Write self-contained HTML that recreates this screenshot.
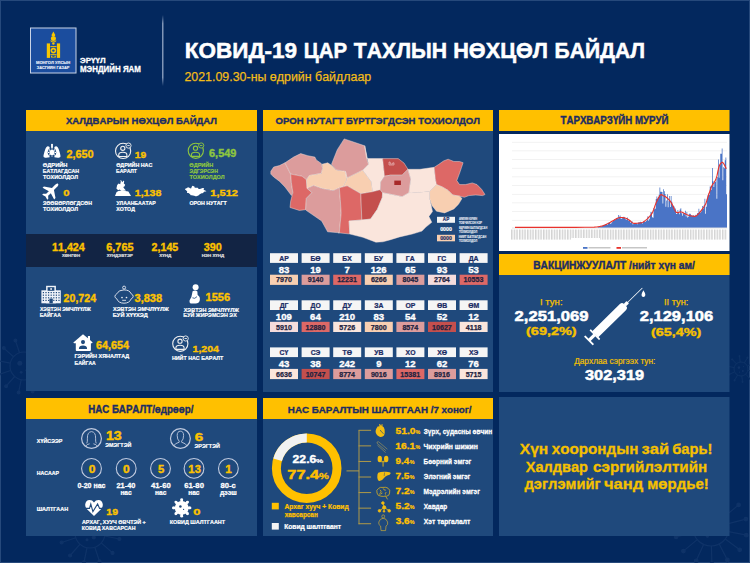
<!DOCTYPE html>
<html><head><meta charset="utf-8"><title>COVID-19</title>
<style>
html,body{margin:0;padding:0;background:#03285e;width:750px;height:563px;overflow:hidden}
svg{display:block}
text{font-family:"Liberation Sans",sans-serif;font-kerning:none}
</style></head>
<body>
<svg xmlns="http://www.w3.org/2000/svg" width="750" height="563" viewBox="0 0 750 563">
<rect x="0.00" y="0.00" width="750.00" height="563.00" fill="#03285e"/>
<rect x="0.00" y="0.00" width="750.00" height="1.00" fill="#26497b"/>
<rect x="0.00" y="0.00" width="1.00" height="563.00" fill="#26497b"/>
<rect x="749.00" y="0.00" width="1.00" height="563.00" fill="#26497b"/>
<rect x="0.00" y="562.00" width="750.00" height="1.00" fill="#26497b"/>
<g fill="none" stroke="#0f3368" stroke-width="1.2">
<circle cx="24.0" cy="366.0" r="14.0"/>
<line x1="37.7" y1="368.8" x2="50.5" y2="371.4"/>
<circle cx="50.5" cy="371.4" r="1.4" fill="#0f3368"/>
<line x1="34.5" y1="375.3" x2="44.2" y2="383.9"/>
<circle cx="44.2" cy="383.9" r="1.4" fill="#0f3368"/>
<line x1="28.5" y1="379.3" x2="32.6" y2="391.6"/>
<circle cx="32.6" cy="391.6" r="1.4" fill="#0f3368"/>
<line x1="21.2" y1="379.7" x2="18.6" y2="392.5"/>
<circle cx="18.6" cy="392.5" r="1.4" fill="#0f3368"/>
<line x1="14.7" y1="376.5" x2="6.1" y2="386.2"/>
<circle cx="6.1" cy="386.2" r="1.4" fill="#0f3368"/>
<line x1="10.7" y1="370.5" x2="-1.6" y2="374.6"/>
<circle cx="-1.6" cy="374.6" r="1.4" fill="#0f3368"/>
<line x1="10.3" y1="363.2" x2="-2.5" y2="360.6"/>
<circle cx="-2.5" cy="360.6" r="1.4" fill="#0f3368"/>
<line x1="13.5" y1="356.7" x2="3.8" y2="348.1"/>
<circle cx="3.8" cy="348.1" r="1.4" fill="#0f3368"/>
<line x1="19.5" y1="352.7" x2="15.4" y2="340.4"/>
<circle cx="15.4" cy="340.4" r="1.4" fill="#0f3368"/>
<line x1="26.8" y1="352.3" x2="29.4" y2="339.5"/>
<circle cx="29.4" cy="339.5" r="1.4" fill="#0f3368"/>
<line x1="33.3" y1="355.5" x2="41.9" y2="345.8"/>
<circle cx="41.9" cy="345.8" r="1.4" fill="#0f3368"/>
<line x1="37.3" y1="361.5" x2="49.6" y2="357.4"/>
<circle cx="49.6" cy="357.4" r="1.4" fill="#0f3368"/>
</g>
<circle cx="19.8" cy="363.2" r="2.5" fill="#0f3368"/>
<circle cx="27.5" cy="370.2" r="2.0" fill="#0f3368"/>
<circle cx="28.9" cy="361.1" r="1.4" fill="#0f3368"/>
<circle cx="21.2" cy="372.3" r="1.4" fill="#0f3368"/>
<g fill="none" stroke="#0f3368" stroke-width="0.9">
<circle cx="741.0" cy="369.0" r="7.0"/>
<line x1="747.9" y1="370.4" x2="753.7" y2="371.6"/>
<circle cx="753.7" cy="371.6" r="0.7" fill="#0f3368"/>
<line x1="745.7" y1="374.2" x2="749.8" y2="378.6"/>
<circle cx="749.8" cy="378.6" r="0.7" fill="#0f3368"/>
<line x1="741.8" y1="376.0" x2="742.5" y2="381.9"/>
<circle cx="742.5" cy="381.9" r="0.7" fill="#0f3368"/>
<line x1="737.6" y1="375.1" x2="734.6" y2="380.3"/>
<circle cx="734.6" cy="380.3" r="0.7" fill="#0f3368"/>
<line x1="734.6" y1="371.9" x2="729.2" y2="374.4"/>
<circle cx="729.2" cy="374.4" r="0.7" fill="#0f3368"/>
<line x1="734.1" y1="367.6" x2="728.3" y2="366.4"/>
<circle cx="728.3" cy="366.4" r="0.7" fill="#0f3368"/>
<line x1="736.3" y1="363.8" x2="732.2" y2="359.4"/>
<circle cx="732.2" cy="359.4" r="0.7" fill="#0f3368"/>
<line x1="740.2" y1="362.0" x2="739.5" y2="356.1"/>
<circle cx="739.5" cy="356.1" r="0.7" fill="#0f3368"/>
<line x1="744.4" y1="362.9" x2="747.4" y2="357.7"/>
<circle cx="747.4" cy="357.7" r="0.7" fill="#0f3368"/>
<line x1="747.4" y1="366.1" x2="752.8" y2="363.6"/>
<circle cx="752.8" cy="363.6" r="0.7" fill="#0f3368"/>
</g>
<circle cx="738.9" cy="367.6" r="1.3" fill="#0f3368"/>
<circle cx="742.8" cy="371.1" r="1.0" fill="#0f3368"/>
<circle cx="743.5" cy="366.6" r="0.7" fill="#0f3368"/>
<circle cx="739.6" cy="372.1" r="0.7" fill="#0f3368"/>
<g fill="none" stroke="#0f3368" stroke-width="1.2">
<circle cx="711.0" cy="528.0" r="18.0"/>
<line x1="728.6" y1="531.6" x2="746.3" y2="535.2"/>
<circle cx="746.3" cy="535.2" r="1.8" fill="#0f3368"/>
<line x1="725.3" y1="538.9" x2="739.7" y2="549.8"/>
<circle cx="739.7" cy="549.8" r="1.8" fill="#0f3368"/>
<line x1="719.2" y1="544.0" x2="727.4" y2="560.0"/>
<circle cx="727.4" cy="560.0" r="1.8" fill="#0f3368"/>
<line x1="711.4" y1="546.0" x2="711.9" y2="564.0"/>
<circle cx="711.9" cy="564.0" r="1.8" fill="#0f3368"/>
<line x1="703.6" y1="544.4" x2="696.2" y2="560.8"/>
<circle cx="696.2" cy="560.8" r="1.8" fill="#0f3368"/>
<line x1="697.2" y1="539.6" x2="683.4" y2="551.1"/>
<circle cx="683.4" cy="551.1" r="1.8" fill="#0f3368"/>
<line x1="693.6" y1="532.4" x2="676.1" y2="536.9"/>
<circle cx="676.1" cy="536.9" r="1.8" fill="#0f3368"/>
<line x1="693.4" y1="524.4" x2="675.7" y2="520.8"/>
<circle cx="675.7" cy="520.8" r="1.8" fill="#0f3368"/>
<line x1="696.7" y1="517.1" x2="682.3" y2="506.2"/>
<circle cx="682.3" cy="506.2" r="1.8" fill="#0f3368"/>
<line x1="702.8" y1="512.0" x2="694.6" y2="496.0"/>
<circle cx="694.6" cy="496.0" r="1.8" fill="#0f3368"/>
<line x1="710.6" y1="510.0" x2="710.1" y2="492.0"/>
<circle cx="710.1" cy="492.0" r="1.8" fill="#0f3368"/>
<line x1="718.4" y1="511.6" x2="725.8" y2="495.2"/>
<circle cx="725.8" cy="495.2" r="1.8" fill="#0f3368"/>
<line x1="724.8" y1="516.4" x2="738.6" y2="504.9"/>
<circle cx="738.6" cy="504.9" r="1.8" fill="#0f3368"/>
<line x1="728.4" y1="523.6" x2="745.9" y2="519.1"/>
<circle cx="745.9" cy="519.1" r="1.8" fill="#0f3368"/>
</g>
<circle cx="705.6" cy="524.4" r="3.2" fill="#0f3368"/>
<circle cx="715.5" cy="533.4" r="2.5" fill="#0f3368"/>
<circle cx="717.3" cy="521.7" r="1.8" fill="#0f3368"/>
<circle cx="707.4" cy="536.1" r="1.8" fill="#0f3368"/>
<g fill="none" stroke="#0f3368" stroke-width="1.2">
<circle cx="90.0" cy="533.0" r="15.0"/>
<line x1="104.7" y1="536.0" x2="119.4" y2="539.0"/>
<circle cx="119.4" cy="539.0" r="1.5" fill="#0f3368"/>
<line x1="101.2" y1="542.9" x2="112.5" y2="552.9"/>
<circle cx="112.5" cy="552.9" r="1.5" fill="#0f3368"/>
<line x1="94.8" y1="547.2" x2="99.5" y2="561.4"/>
<circle cx="99.5" cy="561.4" r="1.5" fill="#0f3368"/>
<line x1="87.0" y1="547.7" x2="84.0" y2="562.4"/>
<circle cx="84.0" cy="562.4" r="1.5" fill="#0f3368"/>
<line x1="80.1" y1="544.2" x2="70.1" y2="555.5"/>
<circle cx="70.1" cy="555.5" r="1.5" fill="#0f3368"/>
<line x1="75.8" y1="537.8" x2="61.6" y2="542.5"/>
<circle cx="61.6" cy="542.5" r="1.5" fill="#0f3368"/>
<line x1="75.3" y1="530.0" x2="60.6" y2="527.0"/>
<circle cx="60.6" cy="527.0" r="1.5" fill="#0f3368"/>
<line x1="78.8" y1="523.1" x2="67.5" y2="513.1"/>
<circle cx="67.5" cy="513.1" r="1.5" fill="#0f3368"/>
<line x1="85.2" y1="518.8" x2="80.5" y2="504.6"/>
<circle cx="80.5" cy="504.6" r="1.5" fill="#0f3368"/>
<line x1="93.0" y1="518.3" x2="96.0" y2="503.6"/>
<circle cx="96.0" cy="503.6" r="1.5" fill="#0f3368"/>
<line x1="99.9" y1="521.8" x2="109.9" y2="510.5"/>
<circle cx="109.9" cy="510.5" r="1.5" fill="#0f3368"/>
<line x1="104.2" y1="528.2" x2="118.4" y2="523.5"/>
<circle cx="118.4" cy="523.5" r="1.5" fill="#0f3368"/>
</g>
<circle cx="85.5" cy="530.0" r="2.7" fill="#0f3368"/>
<circle cx="93.8" cy="537.5" r="2.1" fill="#0f3368"/>
<circle cx="95.2" cy="527.8" r="1.5" fill="#0f3368"/>
<circle cx="87.0" cy="539.8" r="1.5" fill="#0f3368"/>
<rect x="26.00" y="110.00" width="231.00" height="281.00" fill="#1f497c"/>
<rect x="26.00" y="110.00" width="231.00" height="21.00" fill="#ffc000"/>
<rect x="263.00" y="110.00" width="230.00" height="282.00" fill="#1f497c"/>
<rect x="263.00" y="110.00" width="230.00" height="21.00" fill="#ffc000"/>
<rect x="499.00" y="110.00" width="230.50" height="21.00" fill="#ffc000"/>
<rect x="499.00" y="134.00" width="230.50" height="117.00" fill="#ffffff"/>
<rect x="499.00" y="254.00" width="230.50" height="138.00" fill="#1f497c"/>
<rect x="499.00" y="254.00" width="230.50" height="21.00" fill="#ffc000"/>
<rect x="26.00" y="398.00" width="231.00" height="138.00" fill="#1f497c"/>
<rect x="26.00" y="398.00" width="231.00" height="21.00" fill="#ffc000"/>
<rect x="263.00" y="398.00" width="230.00" height="138.00" fill="#1f497c"/>
<rect x="263.00" y="398.00" width="230.00" height="21.00" fill="#ffc000"/>
<rect x="499.00" y="397.00" width="230.50" height="139.00" fill="#1f497c"/>
<rect x="30.50" y="28.00" width="45.50" height="45.00" fill="#1b4d9e" stroke="#c9d3e6" stroke-width="1"/>
<g fill="#f7c600">
<rect x="46.8" y="43.4" width="3.2" height="14.5"/>
<rect x="56.9" y="43.4" width="3.2" height="14.5"/>
<path d="M53.4 31.6 L54.9 34.2 L55.2 36 L51.6 36 L51.9 34.2 Z"/>
<circle cx="53.4" cy="38.4" r="2.5"/>
<path d="M50.6 40 Q53.4 43 56.2 40 L56.2 41.2 Q53.4 44 50.6 41.2 Z"/>
<circle cx="53.4" cy="43.6" r="1.2"/>
<rect x="50.4" y="46.1" width="6.1" height="1"/>
<circle cx="53.4" cy="50.6" r="2.8"/>
<rect x="50.4" y="54.2" width="6.1" height="1"/>
<path d="M51 55.6 Q53.4 58.4 55.8 55.6 L55.8 57.6 L51 57.6 Z"/>
</g>
<circle cx="53.4" cy="50.6" r="1.2" fill="#1b4d9e"/>
<text x="36.03" y="63.90" font-size="3.78" font-weight="bold" fill="#e8eef8" textLength="34.25" lengthAdjust="spacingAndGlyphs" stroke="#e8eef8" stroke-width="0.13">МОНГОЛ УЛСЫН</text>
<text x="36.71" y="69.30" font-size="3.92" font-weight="bold" fill="#e8eef8" stroke="#e8eef8" stroke-width="0.14">ЗАСГИЙН ГАЗАР</text>
<text x="79.99" y="63.10" font-size="7.85" font-weight="bold" fill="#fff" textLength="25.65" lengthAdjust="spacingAndGlyphs" stroke="#fff" stroke-width="0.27">ЭРҮҮЛ</text>
<text x="79.97" y="72.40" font-size="8.14" font-weight="bold" fill="#fff" textLength="60.96" lengthAdjust="spacingAndGlyphs" stroke="#fff" stroke-width="0.28">МЭНДИЙН ЯАМ</text>
<defs><linearGradient id="vl" x1="0" y1="0" x2="0" y2="1"><stop offset="0" stop-color="#9fb0cc" stop-opacity="0"/><stop offset="0.12" stop-color="#9fb0cc" stop-opacity="1"/><stop offset="0.88" stop-color="#9fb0cc" stop-opacity="1"/><stop offset="1" stop-color="#9fb0cc" stop-opacity="0"/></linearGradient></defs>
<rect x="162.20" y="15.00" width="1.20" height="71.00" fill="url(#vl)"/>
<text x="184.79" y="57.70" font-size="21.80" font-weight="bold" fill="#fff" textLength="112.34" lengthAdjust="spacingAndGlyphs" stroke="#fff" stroke-width="0.5">КОВИД-19</text>
<text x="303.84" y="57.70" font-size="21.80" font-weight="bold" fill="#fff" textLength="43.16" lengthAdjust="spacingAndGlyphs" stroke="#fff" stroke-width="0.5">ЦАР</text>
<text x="353.76" y="57.70" font-size="21.80" font-weight="bold" fill="#fff" textLength="93.37" lengthAdjust="spacingAndGlyphs" stroke="#fff" stroke-width="0.5">ТАХЛЫН</text>
<text x="453.25" y="57.70" font-size="21.80" font-weight="bold" fill="#fff" textLength="94.69" lengthAdjust="spacingAndGlyphs" stroke="#fff" stroke-width="0.5">НӨХЦӨЛ</text>
<text x="554.59" y="57.70" font-size="21.80" font-weight="bold" fill="#fff" textLength="90.52" lengthAdjust="spacingAndGlyphs" stroke="#fff" stroke-width="0.5">БАЙДАЛ</text>
<text x="184.38" y="80.60" font-size="13.70" font-weight="normal" fill="#f3bd17" textLength="186.85" lengthAdjust="spacingAndGlyphs" stroke="#f3bd17" stroke-width="0.25">2021.09.30-ны өдрийн байдлаар</text>
<text x="65.92" y="124.00" font-size="9.88" font-weight="bold" fill="#1b2c64" textLength="151.02" lengthAdjust="spacingAndGlyphs" stroke="#1b2c64" stroke-width="0.35">ХАЛДВАРЫН НӨХЦӨЛ БАЙДАЛ</text>
<g fill="#fff">
<rect x="51.1" y="143.9" width="1.8" height="4"/>
<path d="M49.6 147 C47.5 145.2 46 147 45.2 149.6 C44.2 152.8 43.2 155.6 43.6 157 C44.4 158 47.6 157.8 49.6 157.2 Z"/>
<path d="M54.4 147 C56.5 145.2 58 147 58.8 149.6 C59.8 152.8 60.8 155.6 60.4 157 C59.6 158 56.4 157.8 54.4 157.2 Z"/>
</g>
<circle cx="52" cy="152.4" r="4.3" fill="#1f497c"/>
<g fill="#fff"><circle cx="52" cy="152.4" r="2.6"/>
<circle cx="55.50" cy="152.40" r="0.7"/>
<circle cx="54.47" cy="154.87" r="0.7"/>
<circle cx="52.00" cy="155.90" r="0.7"/>
<circle cx="49.53" cy="154.87" r="0.7"/>
<circle cx="48.50" cy="152.40" r="0.7"/>
<circle cx="49.53" cy="149.93" r="0.7"/>
<circle cx="52.00" cy="148.90" r="0.7"/>
<circle cx="54.47" cy="149.93" r="0.7"/>
</g>
<text x="66.42" y="157.80" font-size="10.17" font-weight="bold" fill="#fcc200" textLength="27.22" lengthAdjust="spacingAndGlyphs" stroke="#fcc200" stroke-width="0.36">2,650</text>
<text x="42.87" y="166.90" font-size="5.81" font-weight="bold" fill="#fff" textLength="24.62" lengthAdjust="spacingAndGlyphs" stroke="#fff" stroke-width="0.20">ӨДРИЙН</text>
<text x="42.75" y="172.90" font-size="5.81" font-weight="bold" fill="#fff" textLength="36.41" lengthAdjust="spacingAndGlyphs" stroke="#fff" stroke-width="0.20">БАТЛАГДСАН</text>
<text x="43.04" y="179.10" font-size="5.81" font-weight="bold" fill="#fff" textLength="35.02" lengthAdjust="spacingAndGlyphs" stroke="#fff" stroke-width="0.20">ТОХИОЛДОЛ</text>
<g fill="none" stroke="#f0f0f0" stroke-width="1.1">
<circle cx="123.10" cy="150.90" r="7.6"/>
<circle cx="122.80" cy="148.30" r="2.1"/>
<path d="M118.70 154.90 q0 -2.6 4.1 -2.6 q4.1 0 4.1 2.6 l0 1.6 l-8.2 0 z"/>
</g>
<circle cx="128.50" cy="145.60" r="2.6" fill="#1f497c" stroke="#f0f0f0" stroke-width="0.9"/>
<rect x="127.30" y="145.15" width="2.4" height="0.9" fill="#f0f0f0"/>
<text x="134.75" y="157.80" font-size="9.74" font-weight="bold" fill="#fcc200" textLength="11.43" lengthAdjust="spacingAndGlyphs" stroke="#fcc200" stroke-width="0.34">19</text>
<text x="116.18" y="166.90" font-size="5.81" font-weight="bold" fill="#fff" textLength="36.17" lengthAdjust="spacingAndGlyphs" stroke="#fff" stroke-width="0.20">ӨДРИЙН НАС</text>
<text x="116.06" y="172.90" font-size="5.81" font-weight="bold" fill="#fff" textLength="20.89" lengthAdjust="spacingAndGlyphs" stroke="#fff" stroke-width="0.20">БАРАЛТ</text>
<g fill="none" stroke="#8dc63f" stroke-width="1.1">
<circle cx="195.80" cy="150.80" r="7.6"/>
<circle cx="195.50" cy="148.20" r="2.1"/>
<path d="M191.40 154.80 q0 -2.6 4.1 -2.6 q4.1 0 4.1 2.6 l0 1.6 l-8.2 0 z"/>
</g>
<circle cx="201.20" cy="145.50" r="2.6" fill="#1f497c" stroke="#8dc63f" stroke-width="0.9"/>
<rect x="200.00" y="145.05" width="2.4" height="0.9" fill="#8dc63f"/>
<text x="209.00" y="157.40" font-size="10.03" font-weight="bold" fill="#8dc63f" textLength="27.41" lengthAdjust="spacingAndGlyphs" stroke="#8dc63f" stroke-width="0.35">6,549</text>
<text x="189.37" y="166.80" font-size="5.81" font-weight="bold" fill="#8dc63f" textLength="24.00" lengthAdjust="spacingAndGlyphs" stroke="#8dc63f" stroke-width="0.20">ӨДРИЙН</text>
<text x="189.46" y="173.10" font-size="5.81" font-weight="bold" fill="#8dc63f" textLength="28.59" lengthAdjust="spacingAndGlyphs" stroke="#8dc63f" stroke-width="0.20">ЭДГЭРСЭН</text>
<text x="189.54" y="179.30" font-size="5.81" font-weight="bold" fill="#8dc63f" textLength="35.02" lengthAdjust="spacingAndGlyphs" stroke="#8dc63f" stroke-width="0.20">ТОХИОЛДОЛ</text>
<path transform="translate(51.4,190.6) rotate(45) scale(1.0)" fill="#fff" d="M0,-9.5 C1.4,-9.5 1.4,-7 1.4,-6 L1.4,-2.2 L8.2,2.4 L8.2,4.3 L1.4,2.2 L1.4,6 L3.6,8 L3.6,9.4 L0,8.4 L-3.6,9.4 L-3.6,8 L-1.4,6 L-1.4,2.2 L-8.2,4.3 L-8.2,2.4 L-1.4,-2.2 L-1.4,-6 C-1.4,-7 -1.4,-9.5 0,-9.5 Z"/>
<text x="63.35" y="196.00" font-size="9.88" font-weight="bold" fill="#fcc200" textLength="6.31" lengthAdjust="spacingAndGlyphs" stroke="#fcc200" stroke-width="0.35">0</text>
<text x="42.98" y="205.30" font-size="5.81" font-weight="bold" fill="#fff" textLength="48.97" lengthAdjust="spacingAndGlyphs" stroke="#fff" stroke-width="0.20">ЗӨӨВӨРЛӨГДСӨН</text>
<text x="43.04" y="211.20" font-size="5.81" font-weight="bold" fill="#fff" textLength="35.02" lengthAdjust="spacingAndGlyphs" stroke="#fff" stroke-width="0.20">ТОХИОЛДОЛ</text>
<g fill="#fff">
<path d="M115 196 L131 196 L128.4 191.6 L122 190.6 L118.5 191 L116.6 192 Z"/>
<path d="M116.4 188.6 L117.2 185 L118.6 183.4 L120.2 184.2 L120.8 181.6 L120.2 180.2 L121.4 180.6 L122.2 182.2 L123.6 180.6 L124.2 181.6 L123.8 183.6 L125.2 184.8 L124.4 186.6 L123.2 187 L124.6 189 L126 190.4 L121.6 191 L119.6 189.6 L118.2 190.2 Z"/>
</g>
<text x="134.73" y="196.00" font-size="9.74" font-weight="bold" fill="#fcc200" textLength="26.60" lengthAdjust="spacingAndGlyphs" stroke="#fcc200" stroke-width="0.34">1,138</text>
<text x="116.40" y="205.30" font-size="5.81" font-weight="bold" fill="#fff" textLength="39.38" lengthAdjust="spacingAndGlyphs" stroke="#fff" stroke-width="0.20">УЛААНБААТАР</text>
<text x="116.35" y="211.20" font-size="5.81" font-weight="bold" fill="#fff" textLength="18.54" lengthAdjust="spacingAndGlyphs" stroke="#fff" stroke-width="0.20">ХОТОД</text>
<polygon points="185.03,189.09 185.32,188.66 186.44,188.23 187.30,187.65 188.01,187.29 189.42,187.65 190.06,188.30 191.08,188.38 191.66,186.90 192.34,185.80 194.38,186.50 194.77,187.79 196.17,187.80 197.72,187.80 198.70,188.89 199.89,188.89 201.33,188.49 202.59,187.90 204.16,188.20 203.57,190.09 204.94,190.18 206.30,191.18 206.20,191.57 204.94,191.57 204.16,191.68 203.76,192.27 202.59,193.26 201.62,193.26 200.69,193.74 199.73,194.30 198.76,195.13 197.78,195.80 196.48,196.13 195.50,196.30 194.20,195.80 192.90,195.47 191.75,195.34 190.69,195.24 190.10,194.15 188.55,193.06 187.87,193.07 186.94,192.77 187.01,192.12 187.23,191.26 186.44,190.69 185.89,190.10 185.32,189.67 185.03,189.38" fill="#fff"/>
<text x="210.30" y="196.20" font-size="9.59" font-weight="bold" fill="#fcc200" textLength="27.64" lengthAdjust="spacingAndGlyphs" stroke="#fcc200" stroke-width="0.34">1,512</text>
<text x="189.38" y="205.20" font-size="5.81" font-weight="bold" fill="#fff" textLength="37.27" lengthAdjust="spacingAndGlyphs" stroke="#fff" stroke-width="0.20">ОРОН НУТАГТ</text>
<rect x="26.00" y="234.00" width="231.00" height="33.00" fill="#122444"/>
<text x="52.03" y="251.20" font-size="10.32" font-weight="bold" fill="#fcc200" textLength="32.73" lengthAdjust="spacingAndGlyphs" stroke="#fcc200" stroke-width="0.36">11,424</text>
<text x="106.30" y="251.20" font-size="10.32" font-weight="bold" fill="#fcc200" textLength="27.20" lengthAdjust="spacingAndGlyphs" stroke="#fcc200" stroke-width="0.36">6,765</text>
<text x="151.63" y="251.20" font-size="10.32" font-weight="bold" fill="#fcc200" textLength="26.67" lengthAdjust="spacingAndGlyphs" stroke="#fcc200" stroke-width="0.36">2,145</text>
<text x="203.75" y="251.20" font-size="10.32" font-weight="bold" fill="#fcc200" textLength="17.99" lengthAdjust="spacingAndGlyphs" stroke="#fcc200" stroke-width="0.36">390</text>
<text x="61.96" y="257.40" font-size="4.36" font-weight="bold" fill="#e6e6e6" textLength="18.02" lengthAdjust="spacingAndGlyphs" stroke="#e6e6e6" stroke-width="0.15">ХӨНГӨН</text>
<text x="106.66" y="257.40" font-size="4.36" font-weight="bold" fill="#e6e6e6" textLength="26.19" lengthAdjust="spacingAndGlyphs" stroke="#e6e6e6" stroke-width="0.15">ХҮНДЭВТЭР</text>
<text x="159.26" y="257.40" font-size="4.36" font-weight="bold" fill="#e6e6e6" textLength="12.12" lengthAdjust="spacingAndGlyphs" stroke="#e6e6e6" stroke-width="0.15">ХҮНД</text>
<text x="201.71" y="257.40" font-size="4.36" font-weight="bold" fill="#e6e6e6" textLength="22.37" lengthAdjust="spacingAndGlyphs" stroke="#e6e6e6" stroke-width="0.15">НЭН ХҮНД</text>
<g fill="#eef2f8">
<rect x="46.1" y="285.8" width="9.8" height="17.5"/>
<rect x="41.4" y="290.3" width="19.4" height="13"/>
</g>
<g fill="#1f497c">
<rect x="47.6" y="287.2" width="6.8" height="3.6"/>
<rect x="42.8" y="292.0" width="1.2" height="1.2"/>
<rect x="45.4" y="292.0" width="1.2" height="1.2"/>
<rect x="48.0" y="292.0" width="1.2" height="1.2"/>
<rect x="50.6" y="292.0" width="1.2" height="1.2"/>
<rect x="53.2" y="292.0" width="1.2" height="1.2"/>
<rect x="55.8" y="292.0" width="1.2" height="1.2"/>
<rect x="58.4" y="292.0" width="1.2" height="1.2"/>
<rect x="42.8" y="294.6" width="1.2" height="1.2"/>
<rect x="45.4" y="294.6" width="1.2" height="1.2"/>
<rect x="48.0" y="294.6" width="1.2" height="1.2"/>
<rect x="50.6" y="294.6" width="1.2" height="1.2"/>
<rect x="53.2" y="294.6" width="1.2" height="1.2"/>
<rect x="55.8" y="294.6" width="1.2" height="1.2"/>
<rect x="58.4" y="294.6" width="1.2" height="1.2"/>
<rect x="42.8" y="297.2" width="1.2" height="1.2"/>
<rect x="45.4" y="297.2" width="1.2" height="1.2"/>
<rect x="48.0" y="297.2" width="1.2" height="1.2"/>
<rect x="50.6" y="297.2" width="1.2" height="1.2"/>
<rect x="53.2" y="297.2" width="1.2" height="1.2"/>
<rect x="55.8" y="297.2" width="1.2" height="1.2"/>
<rect x="58.4" y="297.2" width="1.2" height="1.2"/>
<rect x="42.8" y="299.8" width="1.2" height="1.2"/>
<rect x="45.4" y="299.8" width="1.2" height="1.2"/>
<rect x="48.0" y="299.8" width="1.2" height="1.2"/>
<rect x="50.6" y="299.8" width="1.2" height="1.2"/>
<rect x="53.2" y="299.8" width="1.2" height="1.2"/>
<rect x="55.8" y="299.8" width="1.2" height="1.2"/>
<rect x="58.4" y="299.8" width="1.2" height="1.2"/>
<rect x="49.4" y="298.6" width="3.4" height="4.7"/>
</g>
<rect x="50.4" y="288.1" width="1.4" height="1.8" fill="#fff"/>
<text x="63.63" y="301.60" font-size="10.47" font-weight="bold" fill="#fcc200" textLength="32.42" lengthAdjust="spacingAndGlyphs" stroke="#fcc200" stroke-width="0.37">20,724</text>
<text x="39.96" y="311.30" font-size="5.81" font-weight="bold" fill="#fff" textLength="50.82" lengthAdjust="spacingAndGlyphs" stroke="#fff" stroke-width="0.20">ХЭВТЭН ЭМЧЛҮҮЛЖ</text>
<text x="39.66" y="317.10" font-size="5.81" font-weight="bold" fill="#fff" textLength="21.17" lengthAdjust="spacingAndGlyphs" stroke="#fff" stroke-width="0.20">БАЙГАА</text>
<g fill="none" stroke="#dfe4ee" stroke-width="0.95">
<path d="M124 289.9 Q129.6 289.9 131.2 293.8 Q133.4 295 133.2 296.5 Q133 298 131.3 298.7 Q129.6 303.2 124 303.2 Q118.4 303.2 116.7 298.7 Q115 298 114.9 296.5 Q114.8 295 116.8 293.8 Q118.4 289.9 124 289.9 Z"/>
<circle cx="124.1" cy="287.6" r="1.5"/>
<path d="M122.2 300.3 L126 300.3"/>
</g>
<circle cx="122" cy="297.5" r="0.85" fill="#f0f0f0"/><circle cx="126.5" cy="297.5" r="0.85" fill="#f0f0f0"/>
<text x="134.55" y="301.60" font-size="10.47" font-weight="bold" fill="#fcc200" textLength="27.59" lengthAdjust="spacingAndGlyphs" stroke="#fcc200" stroke-width="0.37">3,838</text>
<text x="112.95" y="311.30" font-size="5.81" font-weight="bold" fill="#fff" textLength="55.92" lengthAdjust="spacingAndGlyphs" stroke="#fff" stroke-width="0.20">ХЭВТЭН ЭМЧЛҮҮЛЖ</text>
<text x="112.82" y="317.10" font-size="5.81" font-weight="bold" fill="#fff" textLength="35.08" lengthAdjust="spacingAndGlyphs" stroke="#fff" stroke-width="0.20">БУЙ ХҮҮХЭД</text>
<g fill="#fff">
<circle cx="195.6" cy="287.2" r="3"/>
<path d="M192.6 291.2 Q195.5 289.8 197.4 291.6 L197.6 295 Q200.4 296.6 199.8 300.2 Q199 303.4 195.6 303.4 L190.6 303.4 Q189 302.6 189.6 300.2 L191.4 297 Z"/>
</g>
<path d="M192.4 297.8 q2.4 1.6 4.6 -1.2" fill="none" stroke="#1f497c" stroke-width="0.8"/>
<text x="205.61" y="301.20" font-size="10.17" font-weight="bold" fill="#fcc200" textLength="24.49" lengthAdjust="spacingAndGlyphs" stroke="#fcc200" stroke-width="0.36">1556</text>
<text x="183.65" y="311.70" font-size="5.81" font-weight="bold" fill="#fff" textLength="55.32" lengthAdjust="spacingAndGlyphs" stroke="#fff" stroke-width="0.20">ХЭВТЭН ЭМЧЛҮҮЛЖ</text>
<text x="183.34" y="317.30" font-size="5.81" font-weight="bold" fill="#fff" textLength="53.40" lengthAdjust="spacingAndGlyphs" stroke="#fff" stroke-width="0.20">БУЙ ЖИРЭМСЭН ЭХ</text>
<path fill="#fff" d="M83 334.2 L87.9 338.3 L87.9 336 L90 336 L90 340.1 L92.6 342.6 Q92.6 343.3 91.9 343.3 L90.9 343.3 L90.9 350.3 Q90.9 351.1 90.1 351.1 L76.6 351.1 Q75.8 351.1 75.8 350.3 L75.8 343.3 L74.1 343.3 Q73.4 343.3 73.4 342.6 Z"/>
<g fill="#1f497c"><circle cx="83" cy="342.1" r="2.05"/><path d="M78.9 348.9 Q79 345.6 83 345.6 Q87 345.6 87.1 348.9 z"/></g>
<text x="96.11" y="349.20" font-size="11.05" font-weight="bold" fill="#fcc200" textLength="32.95" lengthAdjust="spacingAndGlyphs" stroke="#fcc200" stroke-width="0.39">64,654</text>
<text x="74.53" y="358.20" font-size="5.81" font-weight="bold" fill="#fff" textLength="54.57" lengthAdjust="spacingAndGlyphs" stroke="#fff" stroke-width="0.20">ГЭРИЙН ХЯНАЛТАД</text>
<text x="74.56" y="364.60" font-size="5.81" font-weight="bold" fill="#fff" textLength="21.17" lengthAdjust="spacingAndGlyphs" stroke="#fff" stroke-width="0.20">БАЙГАА</text>
<g fill="none" stroke="#f0f0f0" stroke-width="1.1">
<circle cx="180.30" cy="343.80" r="7.6"/>
<circle cx="180.00" cy="341.20" r="2.1"/>
<path d="M175.90 347.80 q0 -2.6 4.1 -2.6 q4.1 0 4.1 2.6 l0 1.6 l-8.2 0 z"/>
</g>
<circle cx="185.70" cy="338.50" r="2.6" fill="#1f497c" stroke="#f0f0f0" stroke-width="0.9"/>
<rect x="184.50" y="338.05" width="2.4" height="0.9" fill="#f0f0f0"/>
<text x="192.53" y="351.60" font-size="9.74" font-weight="bold" fill="#fcc200" textLength="26.42" lengthAdjust="spacingAndGlyphs" stroke="#fcc200" stroke-width="0.34">1,204</text>
<text x="171.94" y="360.20" font-size="5.81" font-weight="bold" fill="#fff" textLength="51.31" lengthAdjust="spacingAndGlyphs" stroke="#fff" stroke-width="0.20">НИЙТ НАС БАРАЛТ</text>
<text x="275.51" y="124.00" font-size="9.88" font-weight="bold" fill="#1b2c64" textLength="204.43" lengthAdjust="spacingAndGlyphs" stroke="#1b2c64" stroke-width="0.35">ОРОН НУТАГТ БҮРТГЭГДСЭН ТОХИОЛДОЛ</text>
<g stroke="#f3e2dc" stroke-width="0.45" stroke-linejoin="round">
<polygon points="270.8,171.3 273.7,167.0 279.4,165.6 285.0,162.8 290.7,174.1 291.4,182.7 292.9,192.6 291.4,195.5 285.0,187.0 279.4,181.2 273.7,177.0 270.8,174.1" fill="#dc9c9c"/>
<polygon points="285.0,162.8 293.6,157.1 300.7,153.6 307.8,155.7 314.9,157.1 316.3,159.9 321.3,163.5 322.7,168.5 321.3,173.4 309.2,175.6 306.4,179.8 302.1,176.3 290.7,174.1" fill="#dc9c9c"/>
<polygon points="290.7,174.1 302.1,176.3 306.4,179.8 307.1,188.4 312.0,192.6 306.4,198.3 305.6,209.7 299.3,210.4 290.0,207.5 290.7,201.1 292.9,192.6 291.4,182.7" fill="#dd6866"/>
<polygon points="309.2,175.6 321.3,173.4 322.7,168.5 322.0,164.2 327.7,162.8 331.9,165.6 336.2,169.9 345.4,171.3 346.8,179.8 343.3,186.2 339.3,187.8 333.3,190.5 327.7,189.6 322.0,188.4 313.5,185.5 307.1,188.4 306.4,179.8" fill="#f8cfb1"/>
<polygon points="307.1,188.4 313.5,185.5 322.0,188.4 327.7,189.6 333.3,190.5 339.3,187.8 340.3,199.5 341.2,213.2 339.3,232.8 327.6,231.8 321.7,221.0 306.1,210.3 305.6,209.7 306.4,198.3 312.0,192.6" fill="#dc9c9c"/>
<polygon points="331.5,164.3 337.3,149.7 344.2,138.9 352.0,141.5 364.7,145.8 366.7,158.5 368.6,164.3 362.8,170.2 347.1,178.0 345.4,171.3 336.2,169.9" fill="#dc9c9c"/>
<polygon points="345.4,171.3 347.1,178.0 362.8,170.2 371.5,181.9 372.5,191.7 360.8,193.7 347.1,185.8 339.3,187.8 343.3,186.2 346.8,179.8" fill="#f8cfb1"/>
<polygon points="339.3,187.8 347.1,185.8 360.8,193.7 361.8,220.0 349.1,221.0 349.8,234.0 338.3,232.8 339.3,232.8 341.2,213.2 340.3,199.5" fill="#dd6866"/>
<polygon points="364.7,145.8 366.7,158.5 382.6,158.6 383.6,167.4 384.5,176.2 380.6,182.0 380.3,189.7 372.5,191.7 371.5,181.9 362.8,170.2 368.6,164.3" fill="#fae5dc"/>
<polygon points="360.8,193.7 372.5,191.7 380.3,189.7 382.6,192.8 382.3,197.6 377.4,209.3 370.6,219.1 361.8,220.0" fill="#c44f4d"/>
<polygon points="382.6,158.6 398.2,158.6 404.0,163.0 408.0,169.3 402.1,175.2 390.4,175.2 384.5,176.2 383.6,167.4" fill="#c44f4d"/>
<polygon points="384.5,176.2 390.4,175.2 402.1,175.2 408.0,169.3 410.9,179.1 409.0,192.8 402.1,196.7 392.4,194.7 382.6,192.8 380.3,189.7 380.6,182.0" fill="#dc9c9c"/>
<polygon points="408.0,169.3 420.0,169.3 434.2,167.3 435.4,178.9 436.5,184.6 434.2,187.0 429.6,191.6 411.0,193.0 409.0,192.8 410.9,179.1" fill="#fae5dc"/>
<polygon points="434.2,167.3 438.5,164.5 443.5,161.0 448.1,159.2 453.9,161.5 459.6,161.5 463.1,162.7 461.5,167.5 459.6,173.1 456.8,180.6 459.6,184.6 465.4,184.6 472.3,182.9 477.0,184.6 481.6,189.3 485.0,194.5 482.7,195.6 475.8,195.0 468.9,195.6 464.3,197.3 459.6,196.2 452.7,195.0 448.1,190.4 442.3,187.0 436.5,184.6 435.4,178.9" fill="#dd6866"/>
<polygon points="429.6,191.6 434.2,187.0 436.5,184.6 442.3,187.0 448.1,190.4 452.7,195.0 459.6,196.2 462.0,198.5 458.5,204.3 453.9,208.9 444.6,212.9 436.5,211.2 431.9,205.4 429.6,198.5" fill="#f8cfb1"/>
<polygon points="349.1,221.0 361.8,220.0 370.6,219.1 377.4,209.3 382.3,197.6 382.6,192.8 392.4,194.7 402.1,196.7 409.0,192.8 411.0,193.0 429.6,191.6 429.6,198.5 431.2,205.4 432.5,211.5 428.9,216.4 431.8,222.3 425.9,227.1 422.0,231.1 412.3,234.0 399.6,236.9 389.8,239.9 382.9,241.8 375.9,242.2 362.8,237.3 349.8,234.0" fill="#fae5dc"/>
</g>
<rect x="394.3" y="180.6" width="6.6" height="4.4" fill="#a82828"/>
<path d="M389 165 l0 -3 l1.2 0 l0 2 l2.6 0 l0 -1.2 l1.2 0 l0 2.2 z" fill="none" stroke="#f6dede" stroke-width="0.5"/>
<rect x="437.00" y="216.80" width="18.00" height="6.00" fill="#f4f4f4"/>
<text x="442.79" y="221.30" font-size="4.65" font-weight="bold" fill="#1b2c64" stroke="#1b2c64" stroke-width="0.16">АР</text>
<text x="440.18" y="231.20" font-size="5.23" font-weight="bold" fill="#ffffff" stroke="#ffffff" stroke-width="0.18">0000</text>
<rect x="437.00" y="234.80" width="18.00" height="6.50" fill="#f8cfb1"/>
<text x="440.18" y="239.60" font-size="5.23" font-weight="bold" fill="#1b2c64" stroke="#1b2c64" stroke-width="0.18">0000</text>
<text x="458.95" y="220.40" font-size="3.49" font-weight="bold" fill="#e8ecf4" textLength="18.18" lengthAdjust="spacingAndGlyphs" stroke="#e8ecf4" stroke-width="0.12">АЙМГИЙН НЭРИЙН</text>
<text x="458.97" y="224.00" font-size="3.49" font-weight="bold" fill="#e8ecf4" textLength="23.12" lengthAdjust="spacingAndGlyphs" stroke="#e8ecf4" stroke-width="0.12">ТОВЧИЛСОН НЭР</text>
<text x="458.90" y="229.20" font-size="3.49" font-weight="bold" fill="#e8ecf4" textLength="28.27" lengthAdjust="spacingAndGlyphs" stroke="#e8ecf4" stroke-width="0.12">ӨДРИЙН БАТЛАГДСАН</text>
<text x="458.97" y="232.80" font-size="3.49" font-weight="bold" fill="#e8ecf4" textLength="18.22" lengthAdjust="spacingAndGlyphs" stroke="#e8ecf4" stroke-width="0.12">ТОХИОЛДОЛ</text>
<text x="458.82" y="238.00" font-size="3.49" font-weight="bold" fill="#e8ecf4" textLength="27.37" lengthAdjust="spacingAndGlyphs" stroke="#e8ecf4" stroke-width="0.12">НИЙТ БАТЛАГДСАН</text>
<text x="458.97" y="241.60" font-size="3.49" font-weight="bold" fill="#e8ecf4" textLength="18.22" lengthAdjust="spacingAndGlyphs" stroke="#e8ecf4" stroke-width="0.12">ТОХИОЛДОЛ</text>
<rect x="270.00" y="253.20" width="28.00" height="9.70" fill="#f5f5f5"/>
<text x="279.29" y="260.70" font-size="6.83" font-weight="bold" fill="#1b2c64" stroke="#1b2c64" stroke-width="0.24">АР</text>
<text x="278.69" y="272.60" font-size="9.59" font-weight="bold" fill="#ffffff" stroke="#ffffff" stroke-width="0.34">83</text>
<rect x="270.00" y="274.70" width="28.00" height="10.20" fill="#f8cfb1"/>
<text x="276.07" y="282.40" font-size="7.12" font-weight="bold" fill="#1e2340" stroke="#1e2340" stroke-width="0.25">7970</text>
<rect x="301.60" y="253.20" width="28.00" height="9.70" fill="#f5f5f5"/>
<text x="310.40" y="260.70" font-size="6.83" font-weight="bold" fill="#1b2c64" stroke="#1b2c64" stroke-width="0.24">БӨ</text>
<text x="310.14" y="272.60" font-size="9.59" font-weight="bold" fill="#ffffff" stroke="#ffffff" stroke-width="0.34">19</text>
<rect x="301.60" y="274.70" width="28.00" height="10.20" fill="#dc9c9c"/>
<text x="307.70" y="282.40" font-size="7.12" font-weight="bold" fill="#1e2340" stroke="#1e2340" stroke-width="0.25">9140</text>
<rect x="333.20" y="253.20" width="28.00" height="9.70" fill="#f5f5f5"/>
<text x="342.27" y="260.70" font-size="6.83" font-weight="bold" fill="#1b2c64" stroke="#1b2c64" stroke-width="0.24">БХ</text>
<text x="344.54" y="272.60" font-size="9.59" font-weight="bold" fill="#ffffff" stroke="#ffffff" stroke-width="0.34">7</text>
<rect x="333.20" y="274.70" width="28.00" height="10.20" fill="#dd6866"/>
<text x="337.17" y="282.40" font-size="7.12" font-weight="bold" fill="#1e2340" stroke="#1e2340" stroke-width="0.25">12231</text>
<rect x="364.80" y="253.20" width="28.00" height="9.70" fill="#f5f5f5"/>
<text x="373.96" y="260.70" font-size="6.83" font-weight="bold" fill="#1b2c64" stroke="#1b2c64" stroke-width="0.24">БУ</text>
<text x="370.67" y="272.60" font-size="9.59" font-weight="bold" fill="#ffffff" stroke="#ffffff" stroke-width="0.34">126</text>
<rect x="364.80" y="274.70" width="28.00" height="10.20" fill="#f8cfb1"/>
<text x="370.88" y="282.40" font-size="7.12" font-weight="bold" fill="#1e2340" stroke="#1e2340" stroke-width="0.25">6266</text>
<rect x="396.40" y="253.20" width="28.00" height="9.70" fill="#f5f5f5"/>
<text x="405.86" y="260.70" font-size="6.83" font-weight="bold" fill="#1b2c64" stroke="#1b2c64" stroke-width="0.24">ГА</text>
<text x="405.02" y="272.60" font-size="9.59" font-weight="bold" fill="#ffffff" stroke="#ffffff" stroke-width="0.34">65</text>
<rect x="396.40" y="274.70" width="28.00" height="10.20" fill="#dc9c9c"/>
<text x="402.46" y="282.40" font-size="7.12" font-weight="bold" fill="#1e2340" stroke="#1e2340" stroke-width="0.25">8045</text>
<rect x="428.00" y="253.20" width="28.00" height="9.70" fill="#f5f5f5"/>
<text x="437.46" y="260.70" font-size="6.83" font-weight="bold" fill="#1b2c64" stroke="#1b2c64" stroke-width="0.24">ГС</text>
<text x="436.67" y="272.60" font-size="9.59" font-weight="bold" fill="#ffffff" stroke="#ffffff" stroke-width="0.34">93</text>
<rect x="428.00" y="274.70" width="28.00" height="10.20" fill="#f5dcdc"/>
<text x="433.97" y="282.40" font-size="7.12" font-weight="bold" fill="#1e2340" stroke="#1e2340" stroke-width="0.25">2764</text>
<rect x="459.60" y="253.20" width="28.00" height="9.70" fill="#f5f5f5"/>
<text x="468.76" y="260.70" font-size="6.83" font-weight="bold" fill="#1b2c64" stroke="#1b2c64" stroke-width="0.24">ДА</text>
<text x="468.29" y="272.60" font-size="9.59" font-weight="bold" fill="#ffffff" stroke="#ffffff" stroke-width="0.34">53</text>
<rect x="459.60" y="274.70" width="28.00" height="10.20" fill="#dd6866"/>
<text x="463.60" y="282.40" font-size="7.12" font-weight="bold" fill="#1e2340" stroke="#1e2340" stroke-width="0.25">10553</text>
<rect x="270.00" y="300.30" width="28.00" height="9.70" fill="#f5f5f5"/>
<text x="279.67" y="307.80" font-size="6.83" font-weight="bold" fill="#1b2c64" stroke="#1b2c64" stroke-width="0.24">ДГ</text>
<text x="275.87" y="319.70" font-size="9.59" font-weight="bold" fill="#ffffff" stroke="#ffffff" stroke-width="0.34">109</text>
<rect x="270.00" y="321.80" width="28.00" height="10.20" fill="#f5dcdc"/>
<text x="276.11" y="329.50" font-size="7.12" font-weight="bold" fill="#1e2340" stroke="#1e2340" stroke-width="0.25">5910</text>
<rect x="301.60" y="300.30" width="28.00" height="9.70" fill="#f5f5f5"/>
<text x="310.62" y="307.80" font-size="6.83" font-weight="bold" fill="#1b2c64" stroke="#1b2c64" stroke-width="0.24">ДО</text>
<text x="310.11" y="319.70" font-size="9.59" font-weight="bold" fill="#ffffff" stroke="#ffffff" stroke-width="0.34">64</text>
<rect x="301.60" y="321.80" width="28.00" height="10.20" fill="#dd6866"/>
<text x="305.62" y="329.50" font-size="7.12" font-weight="bold" fill="#1e2340" stroke="#1e2340" stroke-width="0.25">12880</text>
<rect x="333.20" y="300.30" width="28.00" height="9.70" fill="#f5f5f5"/>
<text x="342.58" y="307.80" font-size="6.83" font-weight="bold" fill="#1b2c64" stroke="#1b2c64" stroke-width="0.24">ДУ</text>
<text x="339.23" y="319.70" font-size="9.59" font-weight="bold" fill="#ffffff" stroke="#ffffff" stroke-width="0.34">210</text>
<rect x="333.20" y="321.80" width="28.00" height="10.20" fill="#fae5dc"/>
<text x="339.30" y="329.50" font-size="7.12" font-weight="bold" fill="#1e2340" stroke="#1e2340" stroke-width="0.25">5726</text>
<rect x="364.80" y="300.30" width="28.00" height="9.70" fill="#f5f5f5"/>
<text x="374.21" y="307.80" font-size="6.83" font-weight="bold" fill="#1b2c64" stroke="#1b2c64" stroke-width="0.24">ЗА</text>
<text x="373.49" y="319.70" font-size="9.59" font-weight="bold" fill="#ffffff" stroke="#ffffff" stroke-width="0.34">83</text>
<rect x="364.80" y="321.80" width="28.00" height="10.20" fill="#f8cfb1"/>
<text x="370.87" y="329.50" font-size="7.12" font-weight="bold" fill="#1e2340" stroke="#1e2340" stroke-width="0.25">7800</text>
<rect x="396.40" y="300.30" width="28.00" height="9.70" fill="#f5f5f5"/>
<text x="405.44" y="307.80" font-size="6.83" font-weight="bold" fill="#1b2c64" stroke="#1b2c64" stroke-width="0.24">ОР</text>
<text x="404.94" y="319.70" font-size="9.59" font-weight="bold" fill="#ffffff" stroke="#ffffff" stroke-width="0.34">54</text>
<rect x="396.40" y="321.80" width="28.00" height="10.20" fill="#dc9c9c"/>
<text x="402.38" y="329.50" font-size="7.12" font-weight="bold" fill="#1e2340" stroke="#1e2340" stroke-width="0.25">8574</text>
<rect x="428.00" y="300.30" width="28.00" height="9.70" fill="#f5f5f5"/>
<text x="436.89" y="307.80" font-size="6.83" font-weight="bold" fill="#1b2c64" stroke="#1b2c64" stroke-width="0.24">ӨВ</text>
<text x="436.71" y="319.70" font-size="9.59" font-weight="bold" fill="#ffffff" stroke="#ffffff" stroke-width="0.34">52</text>
<rect x="428.00" y="321.80" width="28.00" height="10.20" fill="#c44f4d"/>
<text x="432.03" y="329.50" font-size="7.12" font-weight="bold" fill="#1e2340" stroke="#1e2340" stroke-width="0.25">10627</text>
<rect x="459.60" y="300.30" width="28.00" height="9.70" fill="#f5f5f5"/>
<text x="468.19" y="307.80" font-size="6.83" font-weight="bold" fill="#1b2c64" stroke="#1b2c64" stroke-width="0.24">ӨМ</text>
<text x="468.15" y="319.70" font-size="9.59" font-weight="bold" fill="#ffffff" stroke="#ffffff" stroke-width="0.34">12</text>
<rect x="459.60" y="321.80" width="28.00" height="10.20" fill="#fae5dc"/>
<text x="465.73" y="329.50" font-size="7.12" font-weight="bold" fill="#1e2340" stroke="#1e2340" stroke-width="0.25">4118</text>
<rect x="270.00" y="347.40" width="28.00" height="9.70" fill="#f5f5f5"/>
<text x="279.49" y="354.90" font-size="6.83" font-weight="bold" fill="#1b2c64" stroke="#1b2c64" stroke-width="0.24">СҮ</text>
<text x="278.77" y="366.80" font-size="9.59" font-weight="bold" fill="#ffffff" stroke="#ffffff" stroke-width="0.34">43</text>
<rect x="270.00" y="368.90" width="28.00" height="10.20" fill="#fae5dc"/>
<text x="276.08" y="376.60" font-size="7.12" font-weight="bold" fill="#1e2340" stroke="#1e2340" stroke-width="0.25">6636</text>
<rect x="301.60" y="347.40" width="28.00" height="9.70" fill="#f5f5f5"/>
<text x="310.70" y="354.90" font-size="6.83" font-weight="bold" fill="#1b2c64" stroke="#1b2c64" stroke-width="0.24">СЭ</text>
<text x="310.30" y="366.80" font-size="9.59" font-weight="bold" fill="#ffffff" stroke="#ffffff" stroke-width="0.34">38</text>
<rect x="301.60" y="368.90" width="28.00" height="10.20" fill="#c44f4d"/>
<text x="305.63" y="376.60" font-size="7.12" font-weight="bold" fill="#1e2340" stroke="#1e2340" stroke-width="0.25">10747</text>
<rect x="333.20" y="347.40" width="28.00" height="9.70" fill="#f5f5f5"/>
<text x="342.56" y="354.90" font-size="6.83" font-weight="bold" fill="#1b2c64" stroke="#1b2c64" stroke-width="0.24">ТӨ</text>
<text x="339.22" y="366.80" font-size="9.59" font-weight="bold" fill="#ffffff" stroke="#ffffff" stroke-width="0.34">242</text>
<rect x="333.20" y="368.90" width="28.00" height="10.20" fill="#dc9c9c"/>
<text x="339.18" y="376.60" font-size="7.12" font-weight="bold" fill="#1e2340" stroke="#1e2340" stroke-width="0.25">8774</text>
<rect x="364.80" y="347.40" width="28.00" height="9.70" fill="#f5f5f5"/>
<text x="374.36" y="354.90" font-size="6.83" font-weight="bold" fill="#1b2c64" stroke="#1b2c64" stroke-width="0.24">УВ</text>
<text x="376.14" y="366.80" font-size="9.59" font-weight="bold" fill="#ffffff" stroke="#ffffff" stroke-width="0.34">9</text>
<rect x="364.80" y="368.90" width="28.00" height="10.20" fill="#dc9c9c"/>
<text x="370.88" y="376.60" font-size="7.12" font-weight="bold" fill="#1e2340" stroke="#1e2340" stroke-width="0.25">9016</text>
<rect x="396.40" y="347.40" width="28.00" height="9.70" fill="#f5f5f5"/>
<text x="405.58" y="354.90" font-size="6.83" font-weight="bold" fill="#1b2c64" stroke="#1b2c64" stroke-width="0.24">ХО</text>
<text x="404.95" y="366.80" font-size="9.59" font-weight="bold" fill="#ffffff" stroke="#ffffff" stroke-width="0.34">12</text>
<rect x="396.40" y="368.90" width="28.00" height="10.20" fill="#dd6866"/>
<text x="400.37" y="376.60" font-size="7.12" font-weight="bold" fill="#1e2340" stroke="#1e2340" stroke-width="0.25">15381</text>
<rect x="428.00" y="347.40" width="28.00" height="9.70" fill="#f5f5f5"/>
<text x="437.18" y="354.90" font-size="6.83" font-weight="bold" fill="#1b2c64" stroke="#1b2c64" stroke-width="0.24">ХӨ</text>
<text x="436.68" y="366.80" font-size="9.59" font-weight="bold" fill="#ffffff" stroke="#ffffff" stroke-width="0.34">62</text>
<rect x="428.00" y="368.90" width="28.00" height="10.20" fill="#dc9c9c"/>
<text x="434.09" y="376.60" font-size="7.12" font-weight="bold" fill="#1e2340" stroke="#1e2340" stroke-width="0.25">8916</text>
<rect x="459.60" y="347.40" width="28.00" height="9.70" fill="#f5f5f5"/>
<text x="469.00" y="354.90" font-size="6.83" font-weight="bold" fill="#1b2c64" stroke="#1b2c64" stroke-width="0.24">ХЭ</text>
<text x="468.23" y="366.80" font-size="9.59" font-weight="bold" fill="#ffffff" stroke="#ffffff" stroke-width="0.34">76</text>
<rect x="459.60" y="368.90" width="28.00" height="10.20" fill="#fae5dc"/>
<text x="465.67" y="376.60" font-size="7.12" font-weight="bold" fill="#1e2340" stroke="#1e2340" stroke-width="0.25">5715</text>
<text x="560.49" y="124.30" font-size="10.47" font-weight="bold" fill="#1b2c64" textLength="108.06" lengthAdjust="spacingAndGlyphs" stroke="#1b2c64" stroke-width="0.37">ТАРХВАРЗҮЙН МУРУЙ</text>
<rect x="512.00" y="141.90" width="215.00" height="0.60" fill="#e9e9e9"/>
<rect x="512.00" y="150.57" width="215.00" height="0.60" fill="#e9e9e9"/>
<rect x="512.00" y="159.24" width="215.00" height="0.60" fill="#e9e9e9"/>
<rect x="512.00" y="167.91" width="215.00" height="0.60" fill="#e9e9e9"/>
<rect x="512.00" y="176.58" width="215.00" height="0.60" fill="#e9e9e9"/>
<rect x="512.00" y="185.25" width="215.00" height="0.60" fill="#e9e9e9"/>
<rect x="512.00" y="193.92" width="215.00" height="0.60" fill="#e9e9e9"/>
<rect x="512.00" y="202.59" width="215.00" height="0.60" fill="#e9e9e9"/>
<rect x="512.00" y="211.26" width="215.00" height="0.60" fill="#e9e9e9"/>
<rect x="512.00" y="219.93" width="215.00" height="0.60" fill="#e9e9e9"/>
<polygon points="598.00,227.80 598.00,226.77 598.75,226.77 598.75,226.50 599.50,226.50 599.50,226.52 600.25,226.52 600.25,226.40 601.00,226.40 601.00,226.43 601.75,226.43 601.75,226.05 602.50,226.05 602.50,225.41 603.25,225.41 603.25,225.35 604.00,225.35 604.00,224.77 604.75,224.77 604.75,224.75 605.50,224.75 605.50,224.31 606.25,224.31 606.25,224.06 607.00,224.06 607.00,224.88 607.75,224.88 607.75,222.87 608.50,222.87 608.50,222.68 609.25,222.68 609.25,222.23 610.00,222.23 610.00,223.72 610.75,223.72 610.75,223.45 611.50,223.45 611.50,222.25 612.25,222.25 612.25,221.42 613.00,221.42 613.00,220.13 613.75,220.13 613.75,220.13 614.50,220.13 614.50,218.95 615.25,218.95 615.25,220.08 616.00,220.08 616.00,218.33 616.75,218.33 616.75,217.80 617.50,217.80 617.50,219.09 618.25,219.09 618.25,215.07 619.00,215.07 619.00,216.74 619.75,216.74 619.75,215.57 620.50,215.57 620.50,218.52 621.25,218.52 621.25,218.73 622.00,218.73 622.00,218.13 622.75,218.13 622.75,217.82 623.50,217.82 623.50,216.76 624.25,216.76 624.25,217.53 625.00,217.53 625.00,218.80 625.75,218.80 625.75,219.81 626.50,219.81 626.50,219.46 627.25,219.46 627.25,217.43 628.00,217.43 628.00,220.66 628.75,220.66 628.75,219.79 629.50,219.79 629.50,220.15 630.25,220.15 630.25,222.82 631.00,222.82 631.00,221.84 631.75,221.84 631.75,221.35 632.50,221.35 632.50,224.50 633.25,224.50 633.25,223.47 634.00,223.47 634.00,223.46 634.75,223.46 634.75,223.98 635.50,223.98 635.50,222.99 636.25,222.99 636.25,223.33 637.00,223.33 637.00,224.30 637.75,224.30 637.75,222.56 638.50,222.56 638.50,222.59 639.25,222.59 639.25,222.28 640.00,222.28 640.00,221.76 640.75,221.76 640.75,222.44 641.50,222.44 641.50,222.44 642.25,222.44 642.25,223.41 643.00,223.41 643.00,221.31 643.75,221.31 643.75,222.07 644.50,222.07 644.50,221.42 645.25,221.42 645.25,221.84 646.00,221.84 646.00,220.93 646.75,220.93 646.75,219.71 647.50,219.71 647.50,216.25 648.25,216.25 648.25,220.83 649.00,220.83 649.00,219.28 649.75,219.28 649.75,215.40 650.50,215.40 650.50,211.97 651.25,211.97 651.25,212.60 652.00,212.60 652.00,217.25 652.75,217.25 652.75,217.78 653.50,217.78 653.50,207.94 654.25,207.94 654.25,209.28 655.00,209.28 655.00,208.83 655.75,208.83 655.75,198.95 656.50,198.95 656.50,196.44 657.25,196.44 657.25,198.87 658.00,198.87 658.00,197.00 658.75,197.00 658.75,194.74 659.50,194.74 659.50,187.58 660.25,187.58 660.25,191.66 661.00,191.66 661.00,191.85 661.75,191.85 661.75,192.12 662.50,192.12 662.50,203.62 663.25,203.62 663.25,189.32 664.00,189.32 664.00,191.34 664.75,191.34 664.75,193.88 665.50,193.88 665.50,206.71 666.25,206.71 666.25,200.61 667.00,200.61 667.00,194.18 667.75,194.18 667.75,207.25 668.50,207.25 668.50,200.46 669.25,200.46 669.25,196.00 670.00,196.00 670.00,206.94 670.75,206.94 670.75,196.00 671.50,196.00 671.50,201.71 672.25,201.71 672.25,205.79 673.00,205.79 673.00,205.77 673.75,205.77 673.75,206.60 674.50,206.60 674.50,209.90 675.25,209.90 675.25,208.48 676.00,208.48 676.00,213.90 676.75,213.90 676.75,213.56 677.50,213.56 677.50,210.05 678.25,210.05 678.25,212.29 679.00,212.29 679.00,214.32 679.75,214.32 679.75,209.55 680.50,209.55 680.50,208.25 681.25,208.25 681.25,213.25 682.00,213.25 682.00,215.81 682.75,215.81 682.75,213.08 683.50,213.08 683.50,213.47 684.25,213.47 684.25,214.19 685.00,214.19 685.00,210.77 685.75,210.77 685.75,216.50 686.50,216.50 686.50,211.99 687.25,211.99 687.25,217.57 688.00,217.57 688.00,216.82 688.75,216.82 688.75,214.22 689.50,214.22 689.50,213.47 690.25,213.47 690.25,214.17 691.00,214.17 691.00,215.27 691.75,215.27 691.75,215.75 692.50,215.75 692.50,215.85 693.25,215.85 693.25,215.20 694.00,215.20 694.00,216.64 694.75,216.64 694.75,215.72 695.50,215.72 695.50,214.87 696.25,214.87 696.25,215.48 697.00,215.48 697.00,213.30 697.75,213.30 697.75,212.93 698.50,212.93 698.50,208.73 699.25,208.73 699.25,211.73 700.00,211.73 700.00,212.73 700.75,212.73 700.75,211.71 701.50,211.71 701.50,209.77 702.25,209.77 702.25,205.92 703.00,205.92 703.00,208.77 703.75,208.77 703.75,205.24 704.50,205.24 704.50,198.68 705.25,198.68 705.25,213.67 706.00,213.67 706.00,206.65 706.75,206.65 706.75,198.67 707.50,198.67 707.50,195.31 708.25,195.31 708.25,193.58 709.00,193.58 709.00,195.06 709.75,195.06 709.75,186.54 710.50,186.54 710.50,186.55 711.25,186.55 711.25,189.84 712.00,189.84 712.00,168.06 712.75,168.06 712.75,181.28 713.50,181.28 713.50,186.94 714.25,186.94 714.25,182.42 715.00,182.42 715.00,181.91 715.75,181.91 715.75,178.89 716.50,178.89 716.50,198.63 717.25,198.63 717.25,176.98 718.00,176.98 718.00,159.62 718.75,159.62 718.75,177.83 719.50,177.83 719.50,165.37 720.25,165.37 720.25,153.74 721.00,153.74 721.00,153.85 721.75,153.85 721.75,148.50 722.50,148.50 722.50,180.36 723.25,180.36 723.25,167.22 724.00,167.22 724.00,168.24 724.75,168.24 724.75,160.16 725.50,160.16 725.50,157.43 726.25,157.43 726.25,194.13 727.00,194.13 727.00,227.80" fill="#4a74c6"/>
<rect x="512.00" y="227.70" width="215.00" height="0.60" fill="#d0d0d0"/>
<polyline points="515.00,227.40 523.26,227.40 535.20,227.40 549.08,227.40 563.17,227.39 575.72,227.36 585.00,227.30 590.74,227.23 594.27,227.15 596.27,227.05 597.40,226.92 598.32,226.74 599.70,226.50 601.36,226.19 602.73,225.82 603.89,225.41 604.94,224.96 605.94,224.48 607.00,224.00 608.08,223.49 609.10,222.95 610.08,222.38 611.05,221.81 612.02,221.24 613.00,220.70 614.00,220.14 615.00,219.56 616.00,218.97 617.00,218.44 618.00,218.01 619.00,217.70 620.02,217.54 621.07,217.49 622.12,217.54 623.15,217.65 624.12,217.81 625.00,218.00 625.78,218.22 626.48,218.50 627.12,218.83 627.74,219.20 628.36,219.59 629.00,220.00 629.67,220.47 630.36,221.03 631.04,221.61 631.71,222.16 632.37,222.64 633.00,223.00 633.57,223.22 634.07,223.35 634.55,223.41 635.07,223.40 635.67,223.36 636.40,223.30 637.31,223.23 638.35,223.15 639.48,223.03 640.64,222.85 641.76,222.58 642.80,222.20 643.76,221.69 644.69,221.07 645.58,220.37 646.45,219.60 647.29,218.81 648.10,218.00 648.89,217.21 649.65,216.40 650.38,215.57 651.09,214.67 651.76,213.69 652.40,212.60 653.00,211.33 653.57,209.90 654.10,208.38 654.61,206.85 655.11,205.40 655.60,204.10 656.08,202.95 656.54,201.89 656.99,200.89 657.43,199.97 657.86,199.11 658.30,198.30 658.74,197.52 659.19,196.77 659.64,196.08 660.07,195.49 660.50,195.01 660.90,194.70 661.27,194.58 661.60,194.64 661.91,194.82 662.24,195.08 662.59,195.36 663.00,195.60 663.46,195.80 663.96,196.00 664.49,196.22 665.05,196.49 665.62,196.80 666.20,197.20 666.81,197.69 667.47,198.26 668.14,198.88 668.80,199.54 669.43,200.22 670.00,200.90 670.50,201.56 670.95,202.23 671.37,202.92 671.77,203.63 672.17,204.39 672.60,205.20 673.05,206.13 673.51,207.18 673.98,208.27 674.44,209.32 674.88,210.26 675.30,211.00 675.67,211.54 675.98,211.93 676.28,212.20 676.60,212.39 676.96,212.51 677.40,212.60 677.90,212.59 678.44,212.43 679.02,212.21 679.67,212.01 680.39,211.92 681.20,212.00 682.15,212.31 683.25,212.81 684.42,213.40 685.60,214.01 686.71,214.57 687.70,215.00 688.55,215.30 689.31,215.52 690.01,215.69 690.67,215.82 691.33,215.92 692.00,216.00 692.67,216.10 693.33,216.22 693.97,216.31 694.62,216.32 695.29,216.20 696.00,215.90 696.75,215.40 697.54,214.74 698.35,213.94 699.17,213.05 699.99,212.09 700.80,211.10 701.62,210.07 702.46,208.97 703.30,207.80 704.12,206.57 704.89,205.27 705.60,203.90 706.23,202.43 706.79,200.85 707.30,199.20 707.79,197.53 708.29,195.88 708.80,194.30 709.34,192.72 709.90,191.10 710.46,189.50 711.00,187.99 711.52,186.63 712.00,185.50 712.43,184.67 712.83,184.11 713.20,183.70 713.56,183.34 713.92,182.91 714.30,182.30 714.69,181.56 715.09,180.79 715.49,179.94 715.90,179.00 716.30,177.93 716.70,176.70 717.10,175.18 717.49,173.38 717.88,171.45 718.27,169.54 718.68,167.81 719.10,166.40 719.55,165.30 720.03,164.39 720.53,163.66 721.01,163.09 721.48,162.67 721.90,162.40 722.27,162.31 722.61,162.40 722.92,162.65 723.23,163.02 723.55,163.48 723.90,164.00 724.30,164.67 724.76,165.54 725.23,166.50 725.66,167.44 726.03,168.24 726.30,168.80" fill="none" stroke="#e8322c" stroke-width="1.15" stroke-linejoin="round"/>
<defs><pattern id="xl" x="511" y="0" width="2.67" height="12" patternUnits="userSpaceOnUse"><rect x="0.3" y="0" width="1.0" height="12" fill="#bdbdbd"/></pattern></defs>
<rect x="511.00" y="229.50" width="216.00" height="8.50" fill="url(#xl)"/>
<rect x="511.00" y="238.00" width="60.00" height="1.60" fill="url(#xl)"/>
<rect x="600.00" y="238.00" width="127.00" height="1.60" fill="url(#xl)"/>
<rect x="583.00" y="247.00" width="4.50" height="1.80" fill="#4a74c6"/>
<rect x="588.50" y="247.20" width="22.00" height="1.20" fill="#b8b8b8"/>
<rect x="616.50" y="247.00" width="4.50" height="1.80" fill="#e8322c"/>
<rect x="622.00" y="247.20" width="25.00" height="1.20" fill="#b8b8b8"/>
<text x="533.22" y="268.50" font-size="10.32" font-weight="bold" fill="#1b2c64" textLength="161.68" lengthAdjust="spacingAndGlyphs" stroke="#1b2c64" stroke-width="0.36">ВАКЦИНЖУУЛАЛТ /нийт хүн ам/</text>
<text x="540.01" y="305.00" font-size="9.30" font-weight="normal" fill="#f5c000" textLength="22.57" lengthAdjust="spacingAndGlyphs" stroke="#f5c000" stroke-width="0.25">I тун:</text>
<text x="514.52" y="320.80" font-size="15.12" font-weight="bold" fill="#fff" textLength="74.10" lengthAdjust="spacingAndGlyphs" stroke="#fff" stroke-width="0.53">2,251,069</text>
<text x="526.08" y="335.20" font-size="10.61" font-weight="bold" fill="#f5c000" textLength="50.43" lengthAdjust="spacingAndGlyphs" stroke="#f5c000" stroke-width="0.37">(69,2%)</text>
<text x="664.04" y="305.00" font-size="9.30" font-weight="normal" fill="#f5c000" stroke="#f5c000" stroke-width="0.25">II тун:</text>
<text x="639.73" y="321.40" font-size="15.12" font-weight="bold" fill="#fff" textLength="73.47" lengthAdjust="spacingAndGlyphs" stroke="#fff" stroke-width="0.53">2,129,106</text>
<text x="650.99" y="335.60" font-size="10.61" font-weight="bold" fill="#f5c000" textLength="50.23" lengthAdjust="spacingAndGlyphs" stroke="#f5c000" stroke-width="0.37">(65,4%)</text>
<text x="574.14" y="364.40" font-size="8.58" font-weight="normal" fill="#f5c000" textLength="81.22" lengthAdjust="spacingAndGlyphs" stroke="#f5c000" stroke-width="0.2">Дархлаа сэргээх тун:</text>
<text x="585.02" y="379.60" font-size="14.24" font-weight="bold" fill="#fff" textLength="59.08" lengthAdjust="spacingAndGlyphs" stroke="#fff" stroke-width="0.50">302,319</text>
<g transform="translate(589,340.4) rotate(-44.5)" fill="#fff">
<rect x="-0.9" y="-6.2" width="1.9" height="12.4" rx="0.5"/>
<rect x="0" y="-1.6" width="8.5" height="3.2"/>
<rect x="7.4" y="-6.8" width="1.8" height="13.6" rx="0.5"/>
<path d="M8.8 -4.3 L47.5 -4.3 Q50.5 -4.3 50.5 -1.8 L50.5 1.8 Q50.5 4.3 47.5 4.3 L8.8 4.3 Z"/>
<rect x="50" y="-1.7" width="4.6" height="3.4" rx="1"/>
<rect x="54" y="-0.4" width="20.8" height="0.8"/>
</g>
<path d="M643.4 290.2 Q645.6 293.6 645.4 294.9 Q645 296.9 643.4 296.9 Q641.6 296.9 641.5 294.9 Q641.4 293.6 643.4 290.2 Z" fill="#fff"/>
<text x="88.15" y="412.80" font-size="10.03" font-weight="bold" fill="#1b2c64" textLength="105.24" lengthAdjust="spacingAndGlyphs" stroke="#1b2c64" stroke-width="0.35">НАС БАРАЛТ/өдрөөр/</text>
<text x="36.85" y="443.00" font-size="5.52" font-weight="bold" fill="#fff" textLength="25.53" lengthAdjust="spacingAndGlyphs" stroke="#fff" stroke-width="0.19">ХҮЙСЭЭР</text>
<text x="36.65" y="475.40" font-size="5.81" font-weight="bold" fill="#fff" textLength="22.23" lengthAdjust="spacingAndGlyphs" stroke="#fff" stroke-width="0.20">НАСААР</text>
<text x="36.63" y="510.70" font-size="5.52" font-weight="bold" fill="#fff" textLength="31.53" lengthAdjust="spacingAndGlyphs" stroke="#fff" stroke-width="0.19">ШАЛТГААН</text>
<circle cx="91.5" cy="438.5" r="9.9" fill="none" stroke="#c0cadf" stroke-width="1.2"/>
<path d="M86.8 443.4 Q87.6 441.6 87.4 438.2 Q87.2 432 91.5 431.6 Q95.8 432 95.6 438.2 Q95.4 441.6 96.2 443.4 M85.2 446.6 Q87 444 89.6 443.8 M97.8 446.6 Q96 444 93.4 443.8" fill="none" stroke="#c0cadf" stroke-width="0.9"/>
<text x="105.90" y="439.80" font-size="12.35" font-weight="bold" fill="#fcc200" textLength="15.81" lengthAdjust="spacingAndGlyphs" stroke="#fcc200" stroke-width="0.43">13</text>
<text x="105.16" y="447.00" font-size="5.52" font-weight="bold" fill="#fff" textLength="26.20" lengthAdjust="spacingAndGlyphs" stroke="#fff" stroke-width="0.19">ЭМЭГТЭЙ</text>
<circle cx="180.4" cy="438.5" r="9.9" fill="none" stroke="#c0cadf" stroke-width="1.2"/>
<path d="M180.4 431.2 Q183.6 431.2 183.6 435.4 Q183.6 439.6 181.6 441.2 L181.6 442.2 Q186 443.4 187.2 446 M180.4 431.2 Q177.2 431.2 177.2 435.4 Q177.2 439.6 179.2 441.2 L179.2 442.2 Q174.8 443.4 173.6 446" fill="none" stroke="#c0cadf" stroke-width="0.9"/>
<text x="194.85" y="440.60" font-size="11.34" font-weight="bold" fill="#fcc200" textLength="8.40" lengthAdjust="spacingAndGlyphs" stroke="#fcc200" stroke-width="0.40">6</text>
<text x="194.46" y="447.60" font-size="5.52" font-weight="bold" fill="#fff" textLength="25.51" lengthAdjust="spacingAndGlyphs" stroke="#fff" stroke-width="0.19">ЭРЭГТЭЙ</text>
<circle cx="91.5" cy="468.4" r="9.9" fill="none" stroke="#c0cadf" stroke-width="1.1"/>
<text x="88.73" y="472.90" font-size="10.50" font-weight="bold" fill="#fcc200" textLength="6.67" lengthAdjust="spacingAndGlyphs" stroke="#fcc200" stroke-width="0.37">0</text>
<circle cx="126.2" cy="468.4" r="9.9" fill="none" stroke="#c0cadf" stroke-width="1.1"/>
<text x="122.93" y="472.90" font-size="10.50" font-weight="bold" fill="#fcc200" textLength="6.67" lengthAdjust="spacingAndGlyphs" stroke="#fcc200" stroke-width="0.37">0</text>
<circle cx="160.5" cy="468.4" r="9.9" fill="none" stroke="#c0cadf" stroke-width="1.1"/>
<text x="158.05" y="472.90" font-size="10.50" font-weight="bold" fill="#fcc200" textLength="6.26" lengthAdjust="spacingAndGlyphs" stroke="#fcc200" stroke-width="0.37">5</text>
<circle cx="194.0" cy="468.4" r="9.9" fill="none" stroke="#c0cadf" stroke-width="1.1"/>
<text x="188.39" y="472.90" font-size="10.50" font-weight="bold" fill="#fcc200" textLength="12.52" lengthAdjust="spacingAndGlyphs" stroke="#fcc200" stroke-width="0.37">13</text>
<circle cx="228.4" cy="468.4" r="9.9" fill="none" stroke="#c0cadf" stroke-width="1.1"/>
<text x="225.16" y="472.90" font-size="10.50" font-weight="bold" fill="#fcc200" textLength="6.57" lengthAdjust="spacingAndGlyphs" stroke="#fcc200" stroke-width="0.37">1</text>
<text x="77.42" y="487.70" font-size="7.40" font-weight="bold" fill="#fff" textLength="28.08" lengthAdjust="spacingAndGlyphs" stroke="#fff" stroke-width="0.26">0-20 нас</text>
<text x="116.55" y="487.70" font-size="7.40" font-weight="bold" fill="#fff" textLength="18.75" lengthAdjust="spacingAndGlyphs" stroke="#fff" stroke-width="0.26">21-40</text>
<text x="151.08" y="487.70" font-size="7.40" font-weight="bold" fill="#fff" textLength="19.63" lengthAdjust="spacingAndGlyphs" stroke="#fff" stroke-width="0.26">41-60</text>
<text x="184.22" y="487.70" font-size="7.40" font-weight="bold" fill="#fff" textLength="19.70" lengthAdjust="spacingAndGlyphs" stroke="#fff" stroke-width="0.26">61-80</text>
<text x="220.56" y="487.70" font-size="7.40" font-weight="bold" fill="#fff" textLength="15.16" lengthAdjust="spacingAndGlyphs" stroke="#fff" stroke-width="0.26">80-с</text>
<text x="120.40" y="494.80" font-size="6.60" font-weight="bold" fill="#fff" stroke="#fff" stroke-width="0.23">нас</text>
<text x="155.00" y="494.80" font-size="6.60" font-weight="bold" fill="#fff" stroke="#fff" stroke-width="0.23">нас</text>
<text x="188.20" y="494.80" font-size="6.60" font-weight="bold" fill="#fff" stroke="#fff" stroke-width="0.23">нас</text>
<text x="219.92" y="494.80" font-size="6.60" font-weight="bold" fill="#fff" stroke="#fff" stroke-width="0.23">дээш</text>
<path fill="#fff" d="M94 516 L86.8 509 Q85 507.2 85.2 504.6 Q85.6 500.2 89.6 500 Q92.4 500 94 502.4 Q95.6 500 98.4 500 Q102.4 500.2 102.8 504.6 Q103 507.2 101.2 509 Z"/>
<polyline points="85.2,508.4 89.5,508.4 90.8,504 92.9,511.6 97.6,504 99.6,508.4 102.8,508.4" fill="none" stroke="#1f497c" stroke-width="1.1" stroke-linejoin="miter"/>
<text x="106.34" y="514.60" font-size="9.88" font-weight="bold" fill="#fcc200" textLength="11.65" lengthAdjust="spacingAndGlyphs" stroke="#fcc200" stroke-width="0.35">19</text>
<text x="81.97" y="524.20" font-size="5.67" font-weight="bold" fill="#fff" textLength="63.75" lengthAdjust="spacingAndGlyphs" stroke="#fff" stroke-width="0.20">АРХАГ, ХУУЧ ӨВЧТЭЙ +</text>
<text x="81.75" y="530.40" font-size="5.67" font-weight="bold" fill="#fff" textLength="53.71" lengthAdjust="spacingAndGlyphs" stroke="#fff" stroke-width="0.20">КОВИД ХАВСАРСАН</text>
<g fill="#fff">
<circle cx="181.7" cy="507.9" r="6.9"/>
<line x1="181.7" y1="507.9" x2="190.00" y2="507.90" stroke="#fff" stroke-width="2.6"/>
<circle cx="190.00" cy="507.90" r="1.4"/>
<line x1="181.7" y1="507.9" x2="187.57" y2="513.77" stroke="#fff" stroke-width="2.6"/>
<circle cx="187.57" cy="513.77" r="1.4"/>
<line x1="181.7" y1="507.9" x2="181.70" y2="516.20" stroke="#fff" stroke-width="2.6"/>
<circle cx="181.70" cy="516.20" r="1.4"/>
<line x1="181.7" y1="507.9" x2="175.83" y2="513.77" stroke="#fff" stroke-width="2.6"/>
<circle cx="175.83" cy="513.77" r="1.4"/>
<line x1="181.7" y1="507.9" x2="173.40" y2="507.90" stroke="#fff" stroke-width="2.6"/>
<circle cx="173.40" cy="507.90" r="1.4"/>
<line x1="181.7" y1="507.9" x2="175.83" y2="502.03" stroke="#fff" stroke-width="2.6"/>
<circle cx="175.83" cy="502.03" r="1.4"/>
<line x1="181.7" y1="507.9" x2="181.70" y2="499.60" stroke="#fff" stroke-width="2.6"/>
<circle cx="181.70" cy="499.60" r="1.4"/>
<line x1="181.7" y1="507.9" x2="187.57" y2="502.03" stroke="#fff" stroke-width="2.6"/>
<circle cx="187.57" cy="502.03" r="1.4"/>
</g>
<circle cx="180.4" cy="506.5" r="1.25" fill="#1f497c"/><circle cx="183.6" cy="509.4" r="0.6" fill="#1f497c"/>
<text x="193.28" y="514.60" font-size="9.59" font-weight="bold" fill="#fcc200" textLength="7.25" lengthAdjust="spacingAndGlyphs" stroke="#fcc200" stroke-width="0.34">0</text>
<text x="169.64" y="523.80" font-size="5.52" font-weight="bold" fill="#fff" textLength="55.42" lengthAdjust="spacingAndGlyphs" stroke="#fff" stroke-width="0.19">КОВИД ШАЛТГААНТ</text>
<text x="287.85" y="412.50" font-size="9.59" font-weight="bold" fill="#1b2c64" textLength="183.75" lengthAdjust="spacingAndGlyphs" stroke="#1b2c64" stroke-width="0.34">НАС БАРАЛТЫН ШАЛТГААН /7 хоног/</text>
<circle cx="306.7" cy="468.2" r="30.3" fill="none" stroke="#ffc000" stroke-width="9.0"/>
<circle cx="306.7" cy="468.2" r="30.3" fill="none" stroke="#f2f2f2" stroke-width="9.0" stroke-dasharray="39.03 190.38" transform="rotate(-163.80 306.7 468.2)"/>
<text x="292.58" y="463.20" font-size="10.03" font-weight="bold" fill="#fff" textLength="23.76" lengthAdjust="spacingAndGlyphs" stroke="#fff" stroke-width="0.35">22.6</text>
<text x="316.10" y="463.20" font-size="4.65" font-weight="bold" fill="#fff" textLength="7.22" lengthAdjust="spacingAndGlyphs" stroke="#fff" stroke-width="0.16">%</text>
<text x="287.30" y="479.30" font-size="13.23" font-weight="bold" fill="#ffc000" textLength="31.79" lengthAdjust="spacingAndGlyphs" stroke="#ffc000" stroke-width="0.46">77.4</text>
<text x="319.12" y="479.30" font-size="9.16" font-weight="bold" fill="#ffc000" textLength="9.87" lengthAdjust="spacingAndGlyphs" stroke="#ffc000" stroke-width="0.32">%</text>
<rect x="271.80" y="502.80" width="7.00" height="6.60" fill="#ffc000"/>
<text x="284.43" y="509.00" font-size="6.69" font-weight="bold" fill="#ffc000" stroke="#ffc000" stroke-width="0.23">Архаг хууч + Ковид</text>
<text x="284.76" y="516.70" font-size="7.00" font-weight="bold" fill="#ffc000" textLength="32.99" lengthAdjust="spacingAndGlyphs" stroke="#ffc000" stroke-width="0.25">хавсарсан</text>
<rect x="271.80" y="523.00" width="7.00" height="6.60" fill="#f4f4f4"/>
<text x="284.15" y="529.20" font-size="6.54" font-weight="bold" fill="#fff" textLength="56.83" lengthAdjust="spacingAndGlyphs" stroke="#fff" stroke-width="0.23">Ковид шалтгаант</text>
<rect x="346.50" y="470.40" width="12.60" height="1.00" fill="#b09a48"/>
<rect x="358.50" y="430.30" width="1.00" height="94.00" fill="#b09a48"/>
<rect x="358.50" y="429.80" width="12.60" height="1.00" fill="#b09a48"/>
<rect x="358.50" y="445.37" width="12.60" height="1.00" fill="#b09a48"/>
<rect x="358.50" y="460.94" width="12.60" height="1.00" fill="#b09a48"/>
<rect x="358.50" y="476.51" width="12.60" height="1.00" fill="#b09a48"/>
<rect x="358.50" y="492.08" width="12.60" height="1.00" fill="#b09a48"/>
<rect x="358.50" y="507.65" width="12.60" height="1.00" fill="#b09a48"/>
<rect x="358.50" y="523.22" width="12.60" height="1.00" fill="#b09a48"/>
<path fill="#f2bd12" d="M377.6 426.4 Q376 428.6 375.6 431 Q375.4 434.8 379.6 436.8 Q382.2 437.6 384 435.6 Q385.2 433.6 384.6 429.6 Q384 426.6 382.4 426.2 L382.6 424.2 L381.6 424.2 L381.2 426 L380 424 L379 424.4 L379.6 426.2 Z"/>
<path d="M380.2 430 Q381.6 432.6 383.6 433.6" fill="none" stroke="#1f497c" stroke-width="0.7"/>
<path d="M378.6 441.8 L387.4 449.2 M377 443.2 L385.8 450.6 M377 443.2 Q376.6 441.4 378.6 441.8 M385.6 452.6 L377.4 445.2" fill="none" stroke="#a89a58" stroke-width="0.6"/>
<g fill="#f2bd12">
<ellipse cx="379.8" cy="459" rx="2.2" ry="3.2"/><ellipse cx="386.2" cy="459" rx="2.2" ry="3.2"/>
<rect x="382.6" y="460.8" width="0.9" height="5.8"/><rect x="380.6" y="461.4" width="4.8" height="0.8"/>
</g>
<path fill="#f2bd12" d="M378.2 472.8 Q381.4 471.3 386 471.8 Q390.4 472 390.7 473.2 Q390.3 475 387.2 475.6 L385.2 476.8 Q382.4 480.6 379.6 481 Q377.5 480.7 377.3 477.2 Q377.2 474.2 378.2 472.8 Z"/>
<path d="M384.6 472.4 L384.2 476" stroke="#1f497c" stroke-width="0.5"/>
<g fill="none" stroke="#f2bd12" stroke-width="0.7">
<path d="M377 493 Q376 489.8 378.4 488.6 Q380 486.8 383 487.4 Q386 486.8 388 488.2 Q390.6 489.8 389.6 493 Q389.4 495.8 386.6 496.2 L385.6 496 Q383.6 496.8 381 496.2 Q377.6 496 377 493 Z"/>
<path d="M380 489.8 Q382 491 380.6 493 M383.2 488.4 Q383.8 490.6 385.8 490.2 M386.4 492 Q384.6 493 385.6 494.6 M379 494 Q381 494.4 382.4 493"/>
<path d="M385.6 496.2 L387.6 499.4"/>
</g>
<g fill="#f2bd12" stroke="#f2bd12" stroke-width="0.8">
<circle cx="384.2" cy="507.4" r="1.6"/>
<line x1="384.2" y1="507.4" x2="384.2" y2="507.4"/>
<circle cx="382.9" cy="503.0" r="1.3"/>
<line x1="384.2" y1="507.4" x2="382.9" y2="503.0"/>
<circle cx="379.5" cy="510.8" r="1.3"/>
<line x1="384.2" y1="507.4" x2="379.5" y2="510.8"/>
<circle cx="389.2" cy="510.8" r="1.3"/>
<line x1="384.2" y1="507.4" x2="389.2" y2="510.8"/>
<circle cx="384.0" cy="511.4" r="0.8"/>
<line x1="384.2" y1="507.4" x2="384.0" y2="511.4"/>
</g>
<path fill="none" stroke="#c8a838" stroke-width="0.7" d="M383.2 514.8 Q381.8 514.8 381.8 516.6 Q381.8 518 383.2 518.2 Q386.6 518.6 387.6 522 Q388.4 525 386 526 L385.6 530.6 L381 530.6 L380.6 526 Q378.2 525 378.8 522 Q379.8 518.6 383.2 518.2 Q384.6 518 384.6 516.6 Q384.6 514.8 383.2 514.8 Z"/>
<text x="395.59" y="434.10" font-size="8.72" font-weight="bold" fill="#ffc000" textLength="19.83" lengthAdjust="spacingAndGlyphs" stroke="#ffc000" stroke-width="0.31">51.0</text>
<text x="415.47" y="434.10" font-size="4.80" font-weight="bold" fill="#ffc000" textLength="4.67" lengthAdjust="spacingAndGlyphs" stroke="#ffc000" stroke-width="0.17">%</text>
<text x="423.75" y="434.10" font-size="7.70" font-weight="bold" fill="#fff" textLength="68.50" lengthAdjust="spacingAndGlyphs" stroke="#fff" stroke-width="0.27">Зүрх, судасны өвчин</text>
<text x="395.25" y="449.10" font-size="8.72" font-weight="bold" fill="#ffc000" textLength="20.03" lengthAdjust="spacingAndGlyphs" stroke="#ffc000" stroke-width="0.31">16.1</text>
<text x="415.47" y="449.10" font-size="4.80" font-weight="bold" fill="#ffc000" textLength="4.67" lengthAdjust="spacingAndGlyphs" stroke="#ffc000" stroke-width="0.17">%</text>
<text x="423.53" y="449.10" font-size="7.70" font-weight="bold" fill="#fff" textLength="54.34" lengthAdjust="spacingAndGlyphs" stroke="#fff" stroke-width="0.27">Чихрийн шижин</text>
<text x="395.56" y="464.10" font-size="8.72" font-weight="bold" fill="#ffc000" textLength="13.69" lengthAdjust="spacingAndGlyphs" stroke="#ffc000" stroke-width="0.31">9.4</text>
<text x="409.67" y="464.10" font-size="4.80" font-weight="bold" fill="#ffc000" textLength="4.67" lengthAdjust="spacingAndGlyphs" stroke="#ffc000" stroke-width="0.17">%</text>
<text x="423.46" y="464.10" font-size="7.70" font-weight="bold" fill="#fff" textLength="47.81" lengthAdjust="spacingAndGlyphs" stroke="#fff" stroke-width="0.27">Бөөрний эмгэг</text>
<text x="395.47" y="479.10" font-size="8.72" font-weight="bold" fill="#ffc000" textLength="14.01" lengthAdjust="spacingAndGlyphs" stroke="#ffc000" stroke-width="0.31">7.5</text>
<text x="409.67" y="479.10" font-size="4.80" font-weight="bold" fill="#ffc000" textLength="4.67" lengthAdjust="spacingAndGlyphs" stroke="#ffc000" stroke-width="0.17">%</text>
<text x="423.73" y="479.10" font-size="7.70" font-weight="bold" fill="#fff" textLength="46.65" lengthAdjust="spacingAndGlyphs" stroke="#fff" stroke-width="0.27">Элэгний эмгэг</text>
<text x="395.46" y="494.10" font-size="8.72" font-weight="bold" fill="#ffc000" textLength="14.14" lengthAdjust="spacingAndGlyphs" stroke="#ffc000" stroke-width="0.31">7.2</text>
<text x="409.67" y="494.10" font-size="4.80" font-weight="bold" fill="#ffc000" textLength="4.67" lengthAdjust="spacingAndGlyphs" stroke="#ffc000" stroke-width="0.17">%</text>
<text x="423.46" y="494.10" font-size="7.70" font-weight="bold" fill="#fff" textLength="56.41" lengthAdjust="spacingAndGlyphs" stroke="#fff" stroke-width="0.27">Мэдрэлийн эмгэг</text>
<text x="395.59" y="509.10" font-size="8.72" font-weight="bold" fill="#ffc000" textLength="14.01" lengthAdjust="spacingAndGlyphs" stroke="#ffc000" stroke-width="0.31">5.2</text>
<text x="409.67" y="509.10" font-size="4.80" font-weight="bold" fill="#ffc000" textLength="4.67" lengthAdjust="spacingAndGlyphs" stroke="#ffc000" stroke-width="0.17">%</text>
<text x="423.84" y="509.10" font-size="7.70" font-weight="bold" fill="#fff" textLength="23.32" lengthAdjust="spacingAndGlyphs" stroke="#fff" stroke-width="0.27">Хавдар</text>
<text x="395.67" y="524.10" font-size="8.72" font-weight="bold" fill="#ffc000" textLength="13.89" lengthAdjust="spacingAndGlyphs" stroke="#ffc000" stroke-width="0.31">3.6</text>
<text x="409.67" y="524.10" font-size="4.80" font-weight="bold" fill="#ffc000" textLength="4.67" lengthAdjust="spacingAndGlyphs" stroke="#ffc000" stroke-width="0.17">%</text>
<text x="423.84" y="524.10" font-size="7.70" font-weight="bold" fill="#fff" textLength="46.55" lengthAdjust="spacingAndGlyphs" stroke="#fff" stroke-width="0.27">Хэт таргалалт</text>
<text x="519.76" y="453.70" font-size="15.20" font-weight="bold" fill="#f5c000" textLength="28.53" lengthAdjust="spacingAndGlyphs" stroke="#f5c000" stroke-width="0.3">Хүн</text>
<text x="551.80" y="453.70" font-size="15.20" font-weight="bold" fill="#f5c000" stroke="#f5c000" stroke-width="0.3">хоорондын</text>
<text x="641.57" y="453.70" font-size="15.20" font-weight="bold" fill="#f5c000" textLength="27.57" lengthAdjust="spacingAndGlyphs" stroke="#f5c000" stroke-width="0.3">зай</text>
<text x="672.23" y="453.70" font-size="15.20" font-weight="bold" fill="#f5c000" textLength="40.07" lengthAdjust="spacingAndGlyphs" stroke="#f5c000" stroke-width="0.3">барь!</text>
<text x="525.77" y="471.50" font-size="15.20" font-weight="bold" fill="#f5c000" textLength="62.22" lengthAdjust="spacingAndGlyphs" stroke="#f5c000" stroke-width="0.3">Халдвар</text>
<text x="593.11" y="471.50" font-size="15.20" font-weight="bold" fill="#f5c000" stroke="#f5c000" stroke-width="0.3">сэргийлэлтийн</text>
<text x="524.50" y="489.30" font-size="15.20" font-weight="bold" fill="#f5c000" textLength="76.10" lengthAdjust="spacingAndGlyphs" stroke="#f5c000" stroke-width="0.3">дэглэмийг</text>
<text x="603.93" y="489.30" font-size="15.20" font-weight="bold" fill="#f5c000" textLength="39.28" lengthAdjust="spacingAndGlyphs" stroke="#f5c000" stroke-width="0.3">чанд</text>
<text x="647.25" y="489.30" font-size="15.20" font-weight="bold" fill="#f5c000" textLength="61.58" lengthAdjust="spacingAndGlyphs" stroke="#f5c000" stroke-width="0.3">мөрдье!</text>
</svg>
</body></html>
